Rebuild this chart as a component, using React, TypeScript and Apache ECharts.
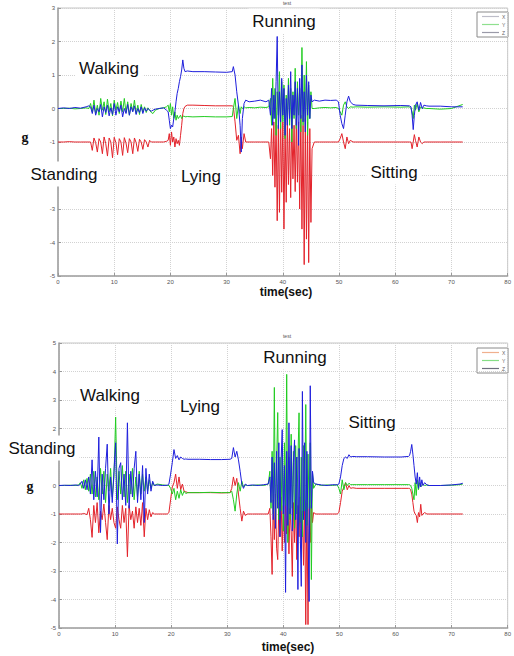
import React, { useEffect, useRef } from "react";
import * as echarts from "echarts";

// ---------- top plot (test 1) ----------
const tTop = [
  0, 1, 2, 3, 4, 5, 5.5,
  5.8, 6.1, 6.4, 6.7, 7.0, 7.3, 7.6, 7.9, 8.2, 8.5, 8.8, 9.1, 9.4, 9.7, 10.0, 10.3, 10.6, 10.9, 11.2, 11.5, 11.8, 12.1, 12.4, 12.7, 13.0, 13.3, 13.6, 13.9, 14.2, 14.5, 14.8, 15.1, 15.4, 15.7, 16.0, 16.3, 16.6, 16.9,
  17.3, 18, 18.8, 19.3,
  19.6, 19.8, 20.0, 20.2, 20.4, 20.6, 20.8, 21.0, 21.2, 21.4, 21.6, 21.8, 22.0, 22.2, 22.4, 22.6, 23.0,
  24, 26, 28, 30, 31,
  31.2, 31.5, 31.8, 32.1, 32.4, 32.6, 32.8, 33.1, 33.4, 34,
  35, 36, 37, 37.5,
  37.8, 38.0, 38.2, 38.4, 38.6, 38.8, 39.0, 39.2, 39.4, 39.6, 39.8, 40.0, 40.2, 40.4, 40.6, 40.8, 41.0, 41.2, 41.4, 41.6, 41.8, 42.0, 42.2, 42.4, 42.6, 42.8, 43.0, 43.2, 43.4, 43.6, 43.8, 44.0, 44.2, 44.4, 44.6, 44.8, 45.0, 45.2,
  45.6, 46.5, 47.5, 48.5, 49.5,
  49.9, 50.2, 50.5, 50.8, 51.1, 51.4, 51.7, 52.0, 52.5, 53,
  55, 58, 61, 62.5,
  62.8, 63.0, 63.2, 63.4, 63.6, 63.9, 64.2, 64.5, 64.8, 65.1, 65.5, 66,
  68, 70, 72,
];
const xTop = [
  -1, -1, -0.99, -1, -1, -1, -1,
  -1.0, -1.25, -0.88, -1.02, -1.3, -0.9, -1.0, -1.35, -0.85, -1.05, -1.42, -0.88, -1.0, -1.47, -0.86, -1.02, -1.38, -0.9, -1.0, -1.4, -0.87, -1.03, -1.32, -0.9, -1.0, -1.35, -0.88, -1.02, -1.28, -0.92, -1.0, -1.22, -0.93, -1.0, -1.15, -0.95, -1.0, -1.0,
  -1, -1, -1, -0.98,
  -0.95, -0.75, -1.1, -0.7, -1.0, -0.85, -1.15, -0.9, -1.05, -0.95, -1.1, -0.8, -0.5, -0.15, 0.0, 0.06, 0.1,
  0.1, 0.09, 0.08, 0.08, 0.08,
  0.05, -0.4, -0.95, -0.8, -1.35, -0.85, -1.2, -0.75, -1.0, -1.0,
  -1, -1, -1, -1,
  -1.5, -0.6, -2.0, -0.4, -2.35, -0.3, -3.35, -0.5, -3.1, -0.2, -2.5, -0.4, -3.6, -0.5, -2.8, -0.3, -2.27, -0.6, -2.66, -0.2, -2.1, -0.5, -2.48, -0.3, -2.2, -0.4, -3.0, -0.2, -3.6, -0.5, -4.66, -0.3, -3.9, -0.4, -4.6, -0.6, -3.4, -1.2,
  -1, -1, -1, -1, -1,
  -1.0, -0.9, -0.75, -1.0, -1.2, -0.85, -1.05, -0.95, -1.0, -1.0,
  -1, -1, -1, -1,
  -1.0, -1.2, -1.0, -0.78, -0.95, -1.15, -0.85, -1.0, -1.05, -1.0, -1.0, -1.0,
  -1, -1, -1,
];
const yTop = [
  0, 0, 0.01, -0.01, 0, 0.02, 0,
  0.15, -0.1, 0.25, -0.15, 0.1, -0.2, 0.3, -0.05, 0.2, -0.18, 0.28, -0.1, 0.15, -0.22, 0.25, -0.05, 0.18, -0.15, 0.22, -0.1, 0.3, -0.12, 0.2, -0.2, 0.15, -0.08, 0.25, -0.15, 0.1, -0.18, 0.12, -0.1, 0.05, -0.12, 0.02, -0.05, -0.12, -0.15,
  -0.05, 0, 0.02, 0.05,
  0.1, -0.1, 0.15, -0.2, 0.05, -0.3, -0.1, -0.35, -0.2, -0.3, -0.25, -0.2, -0.3, -0.25, -0.22, -0.25, -0.24,
  -0.25, -0.24, -0.25, -0.25, -0.24,
  0.0, 0.3, -0.3, 0.1, -0.15, 0.05, 0.0, 0.05, 0.02, 0.03,
  0.02, 0.04, 0.03, 0.05,
  0.3, -0.5, 0.9, -0.3, 0.6, -0.8, 0.5, -0.2, 1.1, -0.6, 0.8, -0.4, 0.7, -0.9, 0.4, -0.3, 0.9, -0.5, 0.6, -1.0, 0.5, -0.3, 1.2, -0.6, 0.8, -0.2, 0.6, -0.7, 1.82, -0.5, 1.0, -0.4, 1.4, -0.8, 0.7, -0.3, 0.5, 0.0,
  0.0, 0.02, 0.03, 0.02, 0.03,
  0.0, -0.1, -0.2, 0.1, 0.2, 0.05, 0.0, 0.05, 0.04, 0.05,
  0.04, 0.05, 0.04, 0.05,
  0.0, -0.1, -0.3, 0.1, -0.05, 0.15, -0.1, 0.05, 0.0, 0.02, 0.0, 0.0,
  -0.02, 0.0, 0.12,
];
const zTop = [
  0, 0.02, 0, 0.03, 0.01, 0.05, 0.08,
  0.05, -0.15, 0.1, -0.2, 0.0, -0.1, 0.12, -0.25, 0.05, -0.12, 0.1, -0.22, 0.02, -0.18, 0.15, -0.2, 0.05, -0.1, 0.1, -0.25, 0.0, -0.15, 0.12, -0.2, 0.05, -0.1, 0.08, -0.18, 0.0, -0.12, 0.05, -0.15, 0.02, -0.08, 0.0, -0.05, -0.08, -0.05,
  -0.02, 0, 0.02, -0.05,
  -0.1, -0.35, -0.6, -0.5, -0.55, -0.3, -0.1, 0.2, 0.45, 0.6, 0.8, 0.95, 1.15, 1.45, 1.2, 1.1, 1.12,
  1.1, 1.1, 1.09, 1.08, 1.1,
  1.25, 1.0, 0.5, 0.1, -0.5, -1.3, -0.3, 0.15, 0.25, 0.2,
  0.22, 0.25, 0.2, 0.25,
  -0.2, 0.6, -0.5, 0.4, -0.3, 0.8, 2.15, -0.6, 0.5, -0.4, 0.9, -0.2, 0.6, -0.8, 0.3, -0.5, 0.7, -0.3, 1.1, -0.6, 0.4, -0.2, 0.8, -0.5, 0.6, -1.1, 0.9, -0.3, 1.3, -0.4, 0.5, -0.7, 1.0, -0.2, 0.8, -0.3, 0.4, 0.2,
  0.25, 0.22, 0.25, 0.24, 0.25,
  0.2, -0.2, -0.45, -0.6, -0.2, 0.2, 0.37, 0.2, 0.12, 0.1,
  0.09, 0.08, 0.09, 0.08,
  0.05, -0.2, -0.63, -0.2, 0.1, 0.2, -0.05, 0.18, 0.0, 0.1, 0.08, 0.07,
  0.07, 0.05, 0.05,
];

// ---------- bottom plot (test 2) ----------
const tBottom = [
  0, 1, 2, 3, 3.5,
  3.8, 4.1, 4.4, 4.7, 5.0, 5.3, 5.6, 5.9, 6.2, 6.5, 6.8, 7.1, 7.4, 7.7, 8.0, 8.3, 8.6, 8.9, 9.2, 9.5, 9.8, 10.1, 10.4, 10.7, 11.0, 11.3, 11.6, 11.9, 12.2, 12.5, 12.8, 13.1, 13.4, 13.7, 14.0, 14.3, 14.6, 14.9, 15.2, 15.5, 15.8, 16.1, 16.4, 16.7, 17.0,
  17.5, 18.5, 19.3,
  19.6, 19.9, 20.2, 20.5, 20.8, 21.1, 21.4, 21.7, 22.0, 22.3, 22.6, 23,
  25, 27, 29, 30.5,
  30.8, 31.1, 31.4, 31.7, 32.0, 32.3, 32.6, 32.9, 33.2, 33.6,
  34.5, 35.5, 36.5, 37.3,
  37.6, 37.8, 38.0, 38.2, 38.4, 38.6, 38.8, 39.0, 39.2, 39.4, 39.6, 39.8, 40.0, 40.2, 40.4, 40.6, 40.8, 41.0, 41.2, 41.4, 41.6, 41.8, 42.0, 42.2, 42.4, 42.6, 42.8, 43.0, 43.2, 43.4, 43.6, 43.8, 44.0, 44.2, 44.4, 44.6, 44.8, 45.0, 45.2, 45.4,
  45.8, 46.8, 47.8, 48.8, 49.6,
  49.9, 50.2, 50.5, 50.8, 51.1, 51.4, 51.7, 52.0, 52.4, 53,
  55, 58, 61, 62.3,
  62.5, 62.7, 62.9, 63.1, 63.3, 63.5, 63.7, 63.9, 64.1, 64.3, 64.5, 64.7, 64.9, 65.2, 65.6, 66,
  68, 70, 71.5, 72,
];
const xBottom = [
  -1, -1, -1, -1, -1,
  -1.0, -1.0, -0.98, -1.0, -1.02, -0.8, -1.2, -1.82, -0.7, -1.3, -0.6, -1.66, -0.9, -1.2, -0.65, -1.3, -1.9, -0.7, -1.2, -0.8, -1.3, -1.5, -0.75, -1.2, -1.5, -0.7, -1.3, -0.8, -2.5, -0.7, -1.2, -0.9, -1.5, -0.75, -1.3, -0.8, -1.4, -0.6, -1.8, -0.8, -1.2, -0.85, -1.1, -0.95, -1.0,
  -1, -1, -1,
  -0.95, -0.5, -0.05, 0.1, 0.4, -0.1, 0.3, -0.15, 0.05, -0.2, -0.22, -0.25,
  -0.25, -0.25, -0.26, -0.25,
  -0.1, 0.3, 0.0, 0.25, -0.3, -0.8, -1.25, -0.9, -1.05, -1.0,
  -1, -1, -1, -1,
  -0.8, -1.8, -3.12, -0.5, -1.9, -0.3, -2.2, -2.6, -0.6, -1.8, -0.4, -2.3, -0.7, -2.0, -0.5, -1.7, -0.4, -2.4, -0.8, -1.6, -3.19, -0.6, -2.0, -0.5, -2.6, -0.7, -1.8, -0.4, -2.2, -0.9, -2.8, -0.5, -4.88, -0.6, -4.88, -0.8, -2.0, -0.7, -1.3, -0.95,
  -1, -1, -1, -1, -1,
  -0.95, -0.6, -0.2, -0.05, 0.1, -0.15, 0.0, -0.1, -0.08, -0.1,
  -0.1, -0.1, -0.1, -0.1,
  -0.1, -0.15, -0.3, -0.6, -0.9, -1.0, -1.05, -1.3, -0.95, -1.1, -0.66, -1.05, -1.0, -0.95, -1.0, -1.0,
  -1, -1, -1, -1,
];
const yBottom = [
  0, 0, 0.01, 0, 0.02,
  0.1, -0.1, 0.2, -0.15, 0.25, -0.2, 0.4, -0.3, 0.5, -0.4, 0.3, -0.5, 0.6, -0.3, 0.5, -0.6, 0.4, -0.2, 0.6, -0.4, 0.3, 2.4, -0.5, 0.5, -0.3, 0.7, -0.4, 0.5, -0.6, 0.4, -0.3, 0.6, -0.5, 0.3, -0.4, 0.5, -0.3, 0.4, -0.2, 0.3, -0.2, 0.2, -0.1, 0.1, 0.0,
  0.05, 0.02, 0.0,
  0.0, -0.1, -0.3, -0.1, -0.5, -0.2, -0.45, -0.15, -0.35, -0.2, -0.28, -0.25,
  -0.25, -0.24, -0.25, -0.25,
  -0.2, -0.5, -0.9, -0.3, 0.1, -0.2, 0.15, -0.05, 0.02, 0.0,
  0, 0.02, 0, 0.05,
  0.5, -0.8, 1.2, -1.0, 3.44, -1.5, 0.8, 2.56, -1.2, 1.0, -0.9, 1.3, -1.6, 1.5, -0.7, 3.9, -2.0, 1.0, -1.2, 1.8, -0.8, 1.2, -1.5, 1.4, -1.0, 0.9, 2.55, -1.3, 1.0, -1.8, 1.4, -0.9, 2.84, -1.4, 1.1, -0.8, 1.5, -3.3, 0.45, -0.1,
  0.05, 0, 0.02, 0, 0.03,
  -0.1, -0.3, 0.2, -0.15, 0.1, 0.0, 0.08, 0.03, 0.03, 0.03,
  0.03, 0.03, 0.03, 0.03,
  0.03, 0.0, -0.1, -0.3, -0.5, 0.1, -0.35, 0.2, -0.15, 0.1, -0.05, 0.0, 0.05, 0.0, 0.02, 0.0,
  0, 0.01, 0.03, 0.05,
];
const zBottom = [
  0, 0.01, 0, 0.02, 0,
  0.05, 0.15, -0.1, 0.2, -0.15, 0.3, -0.3, 0.9, -0.5, 0.5, -0.4, 1.7, -1.65, 0.4, -0.5, 0.6, 1.45, -1.0, 0.3, -0.6, 0.5, 1.5, -2.05, 0.6, 0.8, -0.5, 0.4, -0.7, 2.2, -0.8, 0.5, -0.4, 0.6, 1.2, -0.6, 0.4, -0.5, 0.7, -1.3, 0.6, -0.3, 0.4, -0.2, 0.15, 0.0,
  0.02, 0.0, 0.01,
  0.05, 0.4, 0.8, 1.26, 0.95, 1.05, 0.9, 1.0, 0.95, 0.92, 0.93, 0.92,
  0.92, 0.91, 0.91, 0.92,
  0.95, 1.33, 1.0, 1.2, 0.9, 0.5, 0.05, -0.1, 0.05, 0.0,
  0.02, 0.0, 0.03, 0.05,
  0.3, -0.6, 1.0, -1.2, 0.8, -1.5, 1.2, -0.8, 1.5, -1.8, 0.9, 1.96, -1.0, 0.7, -3.75, 1.2, -1.4, 2.2, -1.0, 1.4, -1.6, 0.8, 1.6, -1.2, 1.0, -3.65, 1.3, -1.5, -3.54, 3.3, -1.2, 1.5, -2.0, 1.2, -1.5, -4.07, 3.5, -0.8, 0.5, 0.1,
  0.05, 0.02, 0, 0.03, 0.02,
  0.05, 0.3, 0.7, 0.95, 1.0, 0.95, 1.08, 1.0, 1.02, 1.01,
  1.01, 1.0, 1.0, 1.02,
  1.05, 1.2, 1.44, 1.1, 0.7, 0.3, 0.05, 0.45, -0.1, 0.3, -0.05, 0.2, 0.0, 0.1, 0.02, 0.0,
  0.0, 0.02, 0.05, 0.08,
];

const seriesNames = ["X", "Y", "Z"];
const lineColors = ["#e3232b", "#22cc22", "#1f1fdc"];
const legendColorsTop = ["#bdbdc8", "#8fe08f", "#9a9aa8"];
const legendColorsBottom = ["#f0b08e", "#86de86", "#6e6e7e"];
const xTicks = { min: 0, max: 80, interval: 10 };
const yTicksTop = { min: -5, max: 3, interval: 1 };
const yTicksBottom = { min: -5, max: 5, interval: 1 };
// tick labels covered by the white "Standing" text boxes in the original figure
const hiddenTickTop = -2;
const hiddenTickBottom = 1;

const pair = (t: number[], v: number[]) => t.map((tt, i) => [tt, v[i]]);

const SANS = "Liberation Sans, Arial, sans-serif";

function xAxisCfg(gridIndex: number) {
  return {
    gridIndex,
    type: "value",
    ...xTicks,
    axisLine: { show: true, onZero: false, lineStyle: { color: "#a4a4a4", width: 1.6 } },
    axisTick: { show: true, inside: true, length: 3, lineStyle: { color: "#999" } },
    axisLabel: { fontSize: 6, color: "#555", margin: 3, fontFamily: SANS },
    splitLine: { show: true, lineStyle: { color: "#d2d2d2", type: "dotted", width: 1 } },
  };
}
function yAxisCfg(gridIndex: number, ticks: any, hidden: number) {
  return {
    gridIndex,
    type: "value",
    ...ticks,
    axisLine: { show: true, onZero: false, lineStyle: { color: "#a4a4a4", width: 1.6 } },
    axisTick: { show: true, inside: true, length: 3, lineStyle: { color: "#999" } },
    axisLabel: {
      fontSize: 6, color: "#555", margin: 3, fontFamily: SANS,
      formatter: (v: number) => (v === hidden ? "" : String(v)),
    },
    splitLine: { show: true, lineStyle: { color: "#d2d2d2", type: "dotted", width: 1 } },
  };
}

function label(text: string, cx: number, cy: number) {
  return {
    type: "text",
    z: 100,
    x: cx,
    y: cy,
    style: {
      text,
      fill: "#111",
      fontSize: 17,
      fontFamily: SANS,
      align: "center",
      verticalAlign: "middle",
      backgroundColor: "#ffffff",
      padding: [4, 4],
    },
  };
}

function legend(x: number, y: number, colors: string[]) {
  const children: any[] = [
    { type: "rect", shape: { x: 0, y: 0, width: 31, height: 25 }, style: { fill: "#fff", stroke: "#8a8a8a", lineWidth: 1 } },
  ];
  seriesNames.forEach((n, i) => {
    const ly = 4.5 + i * 8;
    children.push({ type: "line", shape: { x1: 5, y1: ly, x2: 22, y2: ly }, style: { stroke: colors[i], lineWidth: 1.2 } });
    children.push({ type: "text", x: 25, y: ly, style: { text: n, fontSize: 5, fill: "#666", fontFamily: SANS, verticalAlign: "middle" } });
  });
  return { type: "group", x, y, z: 100, children };
}

function smallText(text: string, x: number, y: number, opts: any) {
  return {
    type: "text",
    z: 100,
    x,
    y,
    style: { text, align: "center", verticalAlign: "middle", fill: "#111", ...opts },
  };
}

export default function App() {
  const ref = useRef<HTMLDivElement>(null);
  useEffect(() => {
    if (!ref.current) return;
    const chart = echarts.init(ref.current, null, { renderer: "svg" });
    const tops = [xTop, yTop, zTop];
    const bots = [xBottom, yBottom, zBottom];
    const series: any[] = [];
    tops.forEach((v, i) =>
      series.push({
        type: "line", name: seriesNames[i], xAxisIndex: 0, yAxisIndex: 0,
        data: pair(tTop, v), showSymbol: false, symbol: "none",
        lineStyle: { color: lineColors[i], width: 1 }, itemStyle: { color: lineColors[i] },
      })
    );
    bots.forEach((v, i) =>
      series.push({
        type: "line", name: seriesNames[i] + "2", xAxisIndex: 1, yAxisIndex: 1,
        data: pair(tBottom, v), showSymbol: false, symbol: "none",
        lineStyle: { color: lineColors[i], width: 1 }, itemStyle: { color: lineColors[i] },
      })
    );
    chart.setOption({
      animation: false,
      backgroundColor: "#ffffff",
      grid: [
        { left: 58, top: 8, width: 456, height: 268, show: true, borderColor: "#c4c4c4", borderWidth: 1, backgroundColor: "transparent" },
        { left: 59, top: 343, width: 456, height: 285, show: true, borderColor: "#c4c4c4", borderWidth: 1, backgroundColor: "transparent" },
      ],
      xAxis: [xAxisCfg(0), xAxisCfg(1)],
      yAxis: [yAxisCfg(0, yTicksTop, hiddenTickTop), yAxisCfg(1, yTicksBottom, hiddenTickBottom)],
      series,
      graphic: [
        smallText("test", 287, 3, { fontSize: 5, fill: "#555", fontFamily: SANS }),
        smallText("test", 287, 336, { fontSize: 5, fill: "#555", fontFamily: SANS }),
        smallText("time(sec)", 286, 292, { fontSize: 12, fontWeight: "bold", fontFamily: SANS }),
        smallText("time(sec)", 288, 647, { fontSize: 12, fontWeight: "bold", fontFamily: SANS }),
        smallText("g", 25, 137, { fontSize: 14, fontWeight: "bold", fontFamily: "Liberation Serif, serif" }),
        smallText("g", 30, 486, { fontSize: 14, fontWeight: "bold", fontFamily: "Liberation Serif, serif" }),
        label("Walking", 109, 68),
        label("Running", 284, 21),
        label("Standing", 64, 174),
        label("Lying", 201, 176),
        label("Sitting", 394, 172),
        label("Walking", 110, 395),
        label("Lying", 200, 406),
        label("Standing", 42, 448),
        label("Running", 295, 357),
        label("Sitting", 372, 422),
        legend(477, 12, legendColorsTop),
        legend(477, 348, legendColorsBottom),
      ],
    });
    return () => chart.dispose();
  }, []);
  return <div ref={ref} style={{ position: "fixed", left: 0, top: 0, width: 514, height: 656 }} />;
}
